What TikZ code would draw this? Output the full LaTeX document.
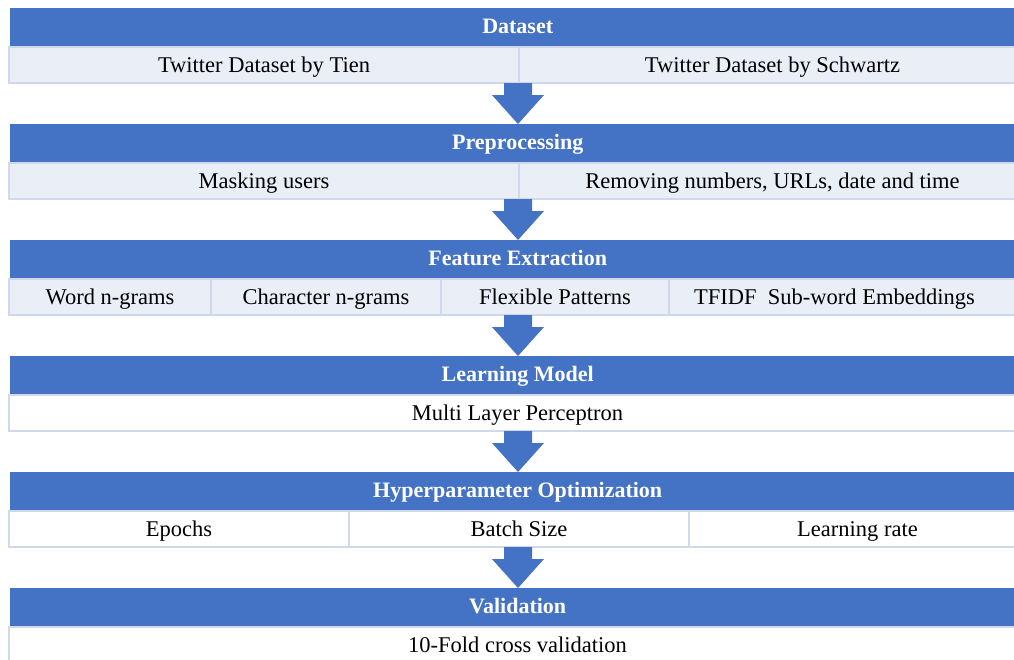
\documentclass[tikz,border=0pt]{standalone}
\usepackage{fontspec}
\setmainfont{Liberation Serif}
\definecolor{hdrblue}{HTML}{4472C4}
\definecolor{cellfill}{HTML}{E9EEF7}
\definecolor{cellline}{HTML}{D0D8EC}
\tikzset{
  hdrbox/.style={fill=hdrblue, text=white, font=\fontsize{22}{26}\selectfont\bfseries,
    minimum height=38pt, inner sep=0pt, text height=18pt, text depth=5pt, anchor=north west},
  cellbox/.style={draw=cellline, line width=2pt, minimum height=36pt, inner sep=0pt,
    text height=19pt, text depth=5pt,
    anchor=north west, font=\fontsize{22.5}{26}\selectfont},
  lightcell/.style={cellbox, fill=cellfill},
  whitecell/.style={cellbox, fill=white},
  blockarrow/.style={fill=hdrblue}
}
% \mycell{name}{x1}{x2}{rowtop}{style}{text}
\newcommand{\mycell}[6]{%
  \pgfmathsetmacro{\cw}{#3-#2}%
  \node[#5, minimum width=\cw pt] (#1) at (#2,#4) {#6};}
% \myarrow{name}{top of block}
\newcommand{\myarrow}[2]{%
  \fill[blockarrow] (504,#2+75) -- (532,#2+75) -- (532,#2+87) -- (544,#2+87)
    -- (518,#2+116) -- (492,#2+87) -- (504,#2+87) -- cycle;}
\begin{document}
\begin{tikzpicture}[x=1pt,y=-1pt]
\useasboundingbox (0,0) rectangle (1014,659);
\clip (0,0) rectangle (1014,659);
\fill[white] (0,0) rectangle (1014,659);

% Dataset
\node[hdrbox, minimum width=1015pt] (h0) at (10,8) {Dataset};
\mycell{c01}{8}{518}{46}{lightcell}{Twitter Dataset by Tien}
\mycell{c02}{518}{1025}{46}{lightcell}{Twitter Dataset by Schwartz}
\myarrow{a0}{8}

% Preprocessing
\node[hdrbox, minimum width=1015pt] (h1) at (10,124) {Preprocessing};
\mycell{c11}{8}{518}{162}{lightcell}{Masking users}
\mycell{c12}{518}{1025}{162}{lightcell}{Removing numbers, URLs, date and time}
\myarrow{a1}{124}

% Feature Extraction
\node[hdrbox, minimum width=1015pt] (h2) at (10,240) {Feature Extraction};
\mycell{c21}{8}{210}{278}{lightcell}{Word n-grams}
\mycell{c22}{210}{440}{278}{lightcell}{Character n-grams}
\mycell{c23}{440}{668}{278}{lightcell}{Flexible Patterns}
\mycell{c24}{668}{1025}{278}{lightcell}{\hspace*{-26pt}TFIDF\ \ Sub-word Embeddings}
\myarrow{a2}{240}

% Learning Model
\node[hdrbox, minimum width=1015pt] (h3) at (10,356) {Learning Model};
\mycell{c31}{8}{1025}{394}{whitecell}{Multi Layer Perceptron}
\myarrow{a3}{356}

% Hyperparameter Optimization
\node[hdrbox, minimum width=1015pt] (h4) at (10,472) {Hyperparameter Optimization};
\mycell{c41}{8}{348}{510}{whitecell}{Epochs}
\mycell{c42}{348}{688}{510}{whitecell}{Batch Size}
\mycell{c43}{688}{1025}{510}{whitecell}{Learning rate}
\myarrow{a4}{472}

% Validation
\node[hdrbox, minimum width=1015pt] (h5) at (10,588) {Validation};
\mycell{c51}{8}{1025}{626}{whitecell}{10-Fold cross validation}
\end{tikzpicture}
\end{document}
